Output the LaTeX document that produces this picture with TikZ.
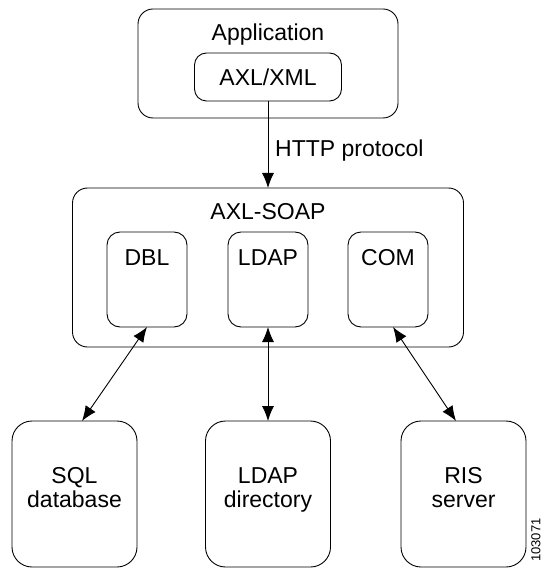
\documentclass[tikz,border=0pt]{standalone}
\usepackage{fontspec}
\setmainfont{Liberation Sans}
\usetikzlibrary{arrows.meta}
\begin{document}
\begin{tikzpicture}[x=1pt,y=1pt,
  box/.style={draw, line width=0.9pt, inner sep=0pt, outer sep=0pt, anchor=north west},
  txt/.style={inner sep=0pt, anchor=base, font=\fontsize{23}{24}\selectfont, align=center},
  conn/.style={line width=0.9pt, -{Latex[length=15pt,width=12pt]}},
  dconn/.style={line width=0.9pt, {Latex[length=15pt,width=12pt]}-{Latex[length=15pt,width=12pt]}}]
\clip (0,0) rectangle (544,-569);
% top
\node[box, rounded corners=15pt, minimum width=260pt, minimum height=109pt] (app) at (138,-9) {};
\node[txt] (apptxt) at (268,-41) {Application};
\node[box, rounded corners=12pt, minimum width=147pt, minimum height=48pt] (axl) at (194.5,-53) {};
\node[txt] (axltxt) at (268,-86) {AXL/XML};
% AXL-SOAP
\node[box, rounded corners=15pt, minimum width=391pt, minimum height=159pt] (soap) at (72.5,-188) {};
\node[txt] (soaptxt) at (268,-219) {AXL-SOAP};
\node[box, rounded corners=13pt, minimum width=80pt, minimum height=95pt] (dbl) at (107,-232) {};
\node[txt] (dbltxt) at (147,-265) {DBL};
\node[box, rounded corners=13pt, minimum width=80pt, minimum height=95pt] (ldapm) at (228,-232) {};
\node[txt] (ldapmtxt) at (268,-265) {LDAP};
\node[box, rounded corners=13pt, minimum width=80pt, minimum height=95pt] (com) at (348,-232) {};
\node[txt] (comtxt) at (388,-265) {COM};
% bottom
\node[box, rounded corners=20pt, minimum width=125pt, minimum height=146pt] (sql) at (12,-421) {};
\node[txt] (sqltxt) at (74.5,-507) {SQL\\database};
\node[box, rounded corners=20pt, minimum width=125pt, minimum height=146pt] (ldapd) at (205.5,-421) {};
\node[txt] (ldapdtxt) at (268,-507) {LDAP\\directory};
\node[box, rounded corners=20pt, minimum width=125pt, minimum height=146pt] (ris) at (401,-421) {};
\node[txt] (ristxt) at (463.5,-507) {RIS\\server};
% connectors
\draw[conn] (axl.south) -- (soap.north);
\node[txt, anchor=base west] (http) at (275,-157) {HTTP protocol};
\draw[dconn] (dbl.south) -- ([xshift=7.5pt]sql.north);
\draw[dconn] (ldapm.south) -- (ldapd.north);
\draw[dconn] ([xshift=5pt]com.south) -- ([xshift=-7.5pt]ris.north);
% figure number
\node[inner sep=0pt, rotate=90, anchor=north west, font=\fontsize{13}{13}\selectfont] (fignum) at (531,-562) {103071};
\end{tikzpicture}
\end{document}
